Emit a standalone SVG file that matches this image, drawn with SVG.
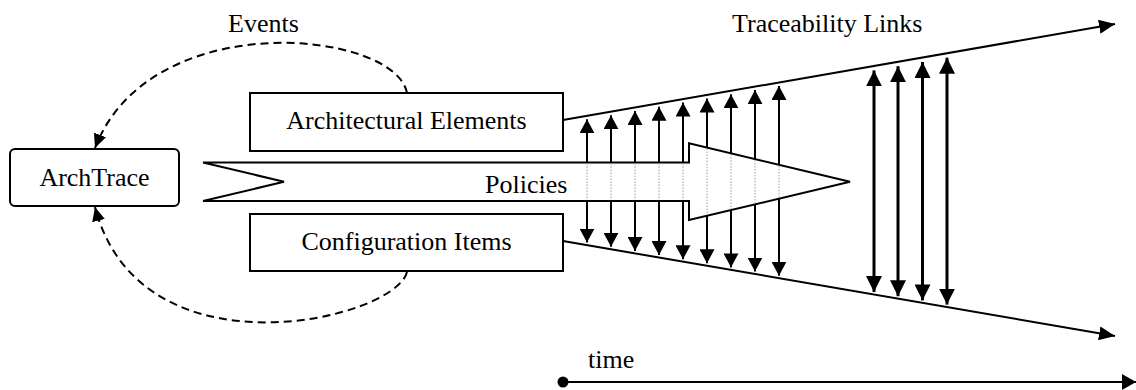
<svg xmlns="http://www.w3.org/2000/svg" width="1136" height="390" viewBox="0 0 1136 390">
  <style>
    .lbl { font-family: "Liberation Serif", "Times New Roman", serif; font-size: 26px; fill: #000; }
    .mid { text-anchor: middle; }
    .box { fill: #fff; stroke: #000; stroke-width: 2; }
    .line { fill: none; stroke: #000; stroke-width: 2; }
    .dash { fill: none; stroke: #000; stroke-width: 2; stroke-dasharray: 8 5; }
    .link { stroke: #000; stroke-width: 2; }
    .linkL { stroke: #000; stroke-width: 3; }
    .dot { stroke: #9a9a9a; stroke-width: 1; stroke-dasharray: 1.5 1.5; }
  </style>
  <defs>
    <marker id="hs" viewBox="0 0 14 15" refX="14" refY="7.5" markerWidth="14" markerHeight="15" markerUnits="userSpaceOnUse" orient="auto">
      <path d="M0,0 L14,7.5 L0,15 Z" fill="#000"/>
    </marker>
    <marker id="hl" viewBox="0 0 16 16" refX="16" refY="8" markerWidth="16" markerHeight="16" markerUnits="userSpaceOnUse" orient="auto-start-reverse">
      <path d="M0,0 L16,8 L0,16 Z" fill="#000"/>
    </marker>
    <marker id="he" viewBox="0 0 16 14" refX="16" refY="7" markerWidth="16" markerHeight="14" markerUnits="userSpaceOnUse" orient="auto">
      <path d="M0,0 L16,7 L0,14 Z" fill="#000"/>
    </marker>
    <marker id="hd" viewBox="0 0 14 13" refX="14" refY="6.5" markerWidth="14" markerHeight="13" markerUnits="userSpaceOnUse" orient="auto">
      <path d="M0,0 L14,6.5 L0,13 Z" fill="#000"/>
    </marker>
    <marker id="ht" viewBox="0 0 14 16" refX="14" refY="8" markerWidth="14" markerHeight="16" markerUnits="userSpaceOnUse" orient="auto">
      <path d="M0,0 L14,8 L0,16 Z" fill="#000"/>
    </marker>
  </defs>

  <rect width="1136" height="390" fill="#fff"/>

  <!-- connectors -->
  <g id="connectors">
    <!-- event feedback loops -->
    <path class="dash" d="M407,93 C395,30 150,5 95,148" marker-end="url(#hd)"/>
    <path class="dash" d="M407,272 C395,320 140,380 95,207" marker-end="url(#hd)"/>

    <!-- traceability envelope -->
    <line class="line" x1="563" y1="120" x2="1115" y2="24" marker-end="url(#he)"/>
    <line class="line" x1="563" y1="241" x2="1115" y2="336" marker-end="url(#he)"/>

    <!-- short links: up -->
    <g marker-end="url(#hs)">
      <line class="link" x1="587" y1="162.5" x2="587" y2="119.3"/>
      <line class="link" x1="611" y1="162.5" x2="611" y2="115.2"/>
      <line class="link" x1="635" y1="162.5" x2="635" y2="111"/>
      <line class="link" x1="659" y1="162.5" x2="659" y2="106.8"/>
      <line class="link" x1="683" y1="162.5" x2="683" y2="102.6"/>
      <line class="link" x1="707" y1="147.6" x2="707" y2="98.5"/>
      <line class="link" x1="731" y1="153.3" x2="731" y2="94.3"/>
      <line class="link" x1="755" y1="159" x2="755" y2="90.1"/>
      <line class="link" x1="779" y1="164.8" x2="779" y2="85.9"/>
    </g>
    <!-- short links: down -->
    <g marker-end="url(#hs)">
      <line class="link" x1="587" y1="201" x2="587" y2="242.6"/>
      <line class="link" x1="611" y1="201" x2="611" y2="246.8"/>
      <line class="link" x1="635" y1="201" x2="635" y2="250.9"/>
      <line class="link" x1="659" y1="201" x2="659" y2="255"/>
      <line class="link" x1="683" y1="201" x2="683" y2="259.2"/>
      <line class="link" x1="707" y1="215.9" x2="707" y2="263.3"/>
      <line class="link" x1="731" y1="210.2" x2="731" y2="267.4"/>
      <line class="link" x1="755" y1="204.5" x2="755" y2="271.5"/>
      <line class="link" x1="779" y1="198.7" x2="779" y2="275.7"/>
    </g>

    <!-- long links (double headed) -->
    <g marker-start="url(#hl)" marker-end="url(#hl)">
      <line class="linkL" x1="874" y1="292" x2="874" y2="70.4"/>
      <line class="linkL" x1="898" y1="296.2" x2="898" y2="66.2"/>
      <line class="linkL" x1="922.5" y1="300.4" x2="922.5" y2="62"/>
      <line class="linkL" x1="947" y1="304.6" x2="947" y2="57.7"/>
    </g>

    <!-- time axis -->
    <circle cx="563" cy="382" r="5.5" fill="#000"/>
    <line class="line" x1="563" y1="382" x2="1136" y2="382" marker-end="url(#ht)"/>
  </g>

  <!-- nodes -->
  <g id="archtrace">
    <rect class="box" x="10" y="149" width="169" height="57" rx="5"/>
    <text class="lbl mid" x="94.5" y="186">ArchTrace</text>
  </g>

  <g id="architectural-elements">
    <rect class="box" x="250" y="93" width="313" height="58"/>
    <text class="lbl mid" x="406.5" y="129">Architectural Elements</text>
  </g>

  <g id="configuration-items">
    <rect class="box" x="250" y="214" width="313" height="57"/>
    <text class="lbl mid" x="406.5" y="249.5">Configuration Items</text>
  </g>

  <g id="policies">
    <path class="box" d="M203,162.5 L689,162.5 L689,143.3 L850,181.75 L689,220 L689,201 L203,201 L284,181.75 Z"/>
    <!-- links seen through the policy arrow -->
    <line class="dot" x1="587" y1="163.5" x2="587" y2="200"/>
    <line class="dot" x1="611" y1="163.5" x2="611" y2="200"/>
    <line class="dot" x1="635" y1="163.5" x2="635" y2="200"/>
    <line class="dot" x1="659" y1="163.5" x2="659" y2="200"/>
    <line class="dot" x1="683" y1="163.5" x2="683" y2="200"/>
    <line class="dot" x1="707" y1="148.6" x2="707" y2="214.9"/>
    <line class="dot" x1="731" y1="154.3" x2="731" y2="209.2"/>
    <line class="dot" x1="755" y1="160" x2="755" y2="203.5"/>
    <line class="dot" x1="779" y1="165.8" x2="779" y2="197.7"/>
    <text class="lbl" x="485" y="192.5">Policies</text>
  </g>

  <!-- free labels -->
  <text class="lbl" x="228" y="32">Events</text>
  <text class="lbl" x="732" y="32">Traceability Links</text>
  <text class="lbl" x="588" y="368">time</text>
</svg>
